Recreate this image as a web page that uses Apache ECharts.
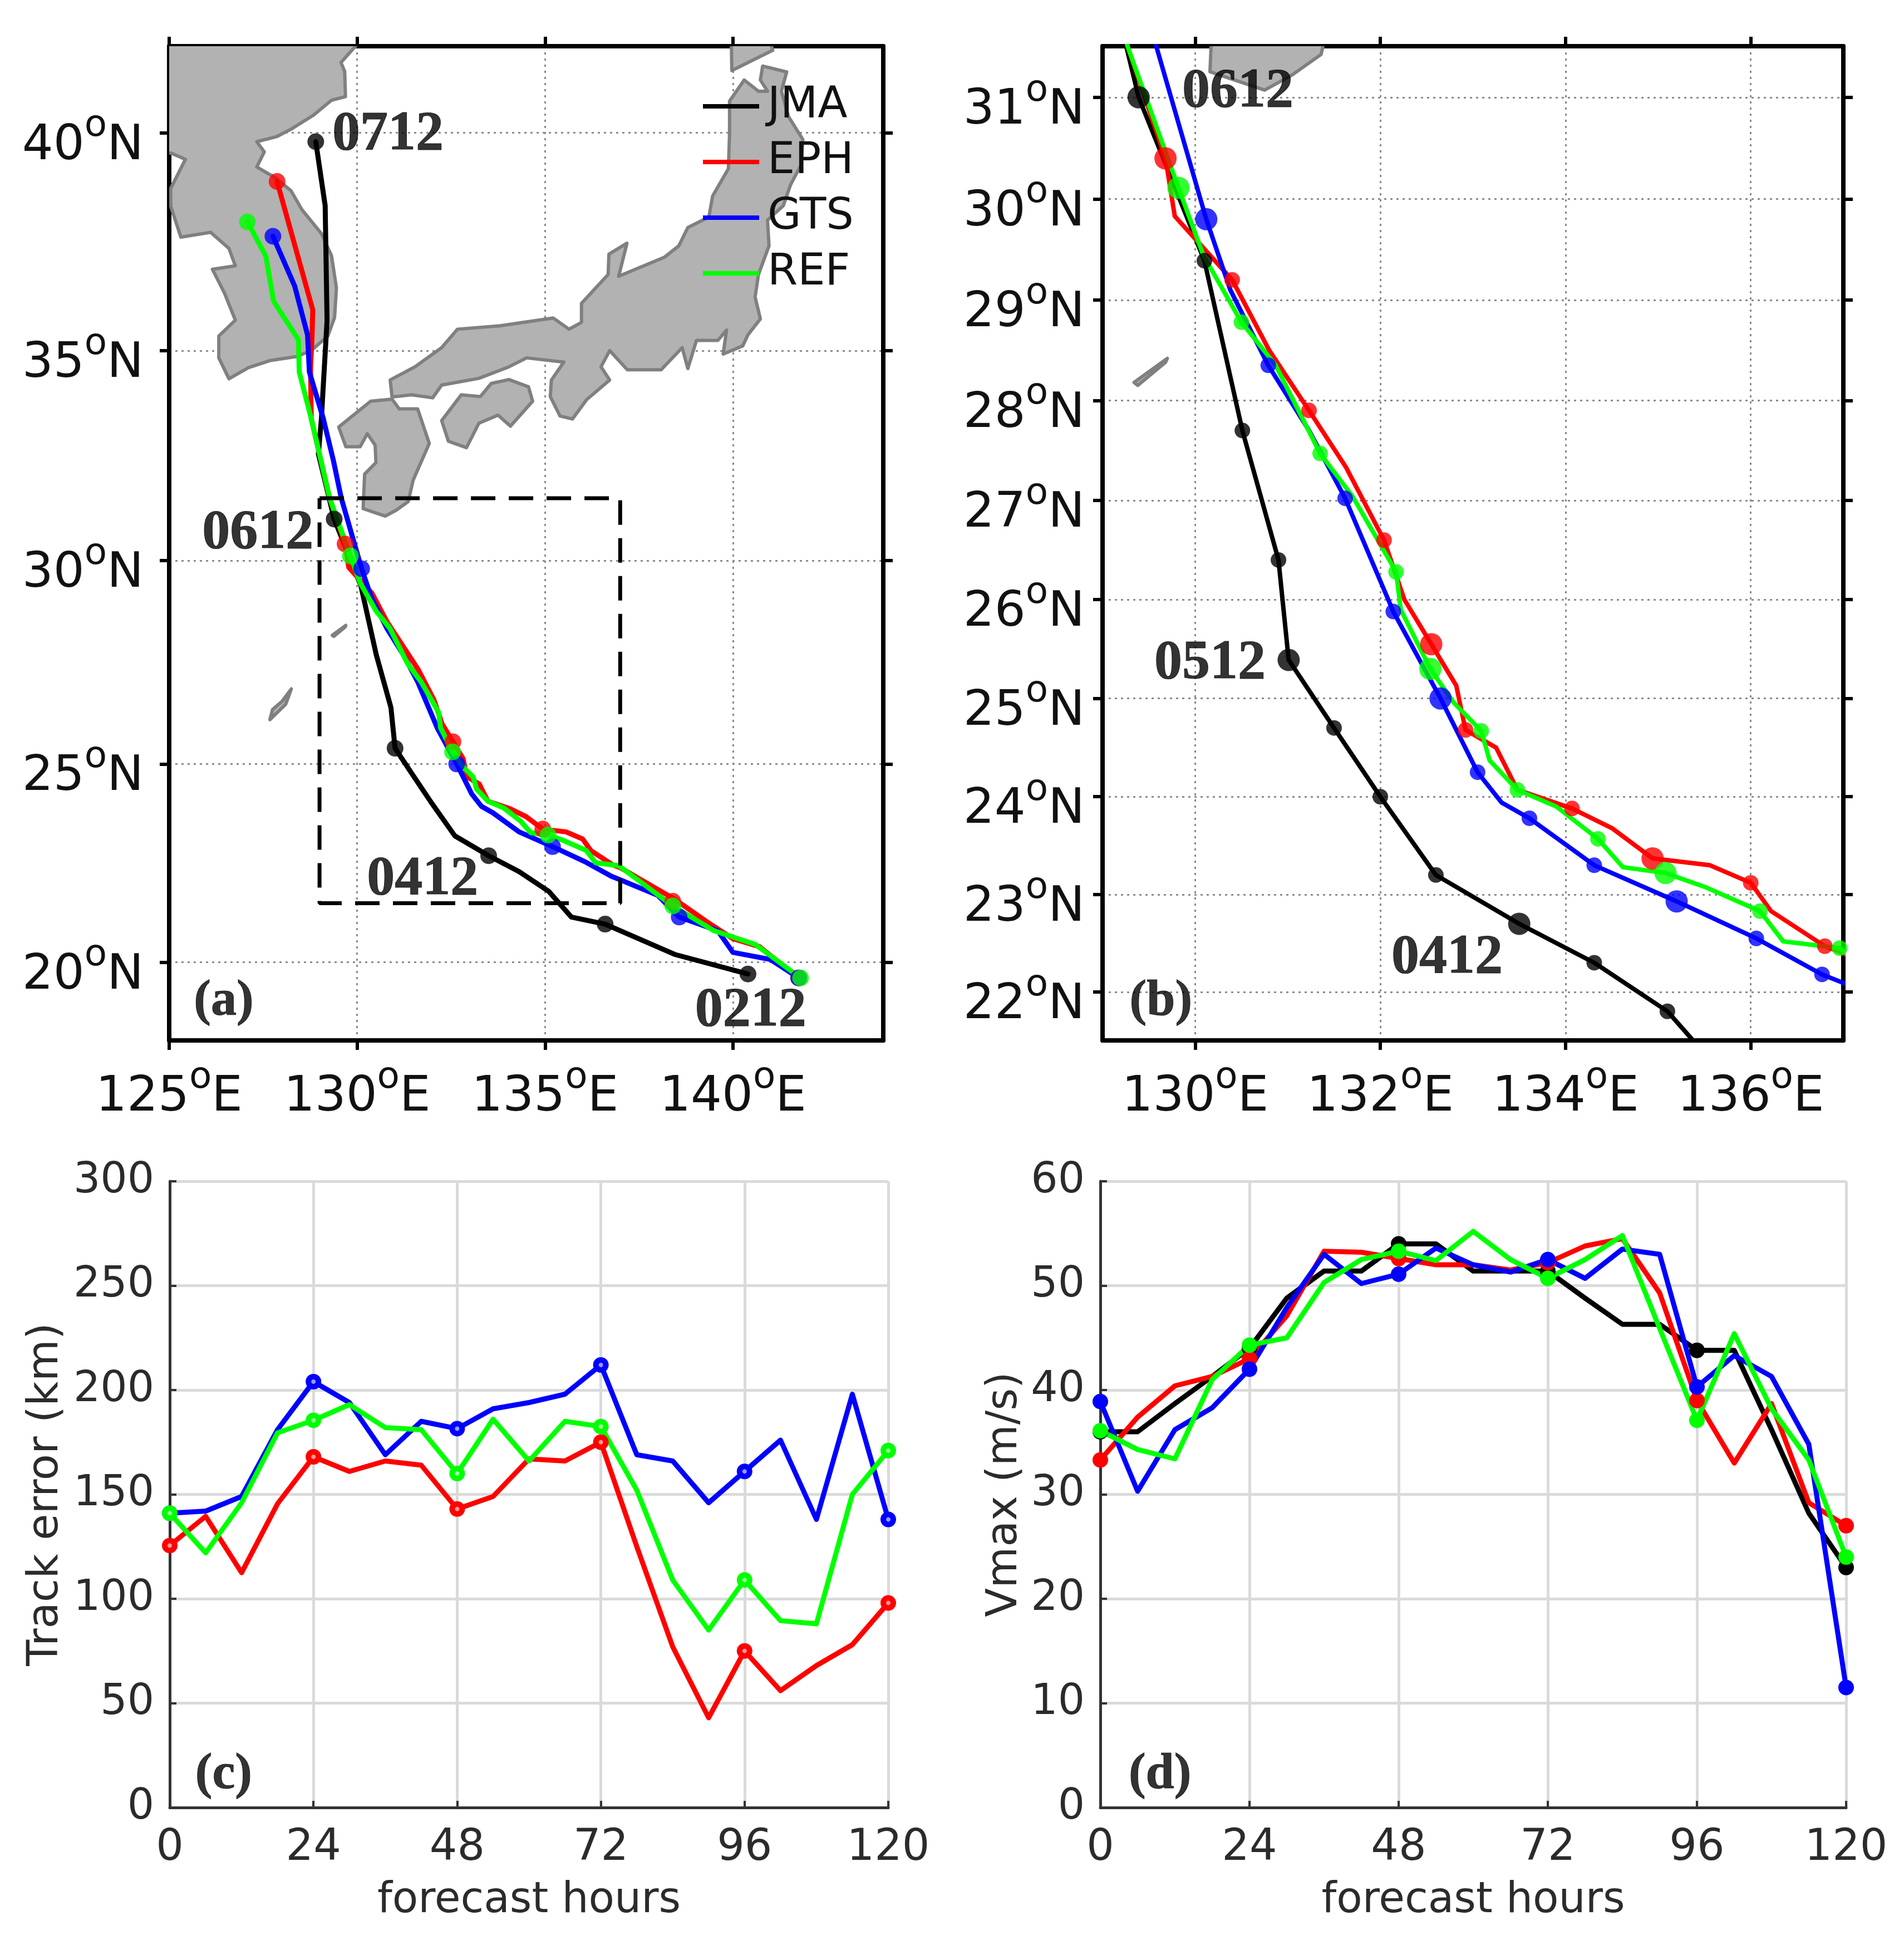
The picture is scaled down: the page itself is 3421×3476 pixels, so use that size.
<!DOCTYPE html>
<html><head><meta charset="utf-8">
<style>html,body{margin:0;padding:0;background:#fff}#c{width:3421px;height:3476px}</style>
<script src="https://cdn.jsdelivr.net/npm/echarts@6/dist/echarts.min.js"></script>
</head><body><div id="c"></div>
<script>
// ---------- track data: [lon, lat] ----------
const jmaTrack=[[140.4,19.7],[138.45,20.2],[136.6,20.97],[135.7,21.15],[135.1,21.8],[134.31,22.3],[133.5,22.7],[132.6,23.2],[132.0,24.0],[131.5,24.7],[131.01,25.39],[130.9,26.4],[130.51,27.7],[130.1,29.39],[129.39,31.0],[128.97,32.56],[129.05,33.4],[129.2,35.7],[129.15,38.35],[128.9,39.8]];
const ephTrack=[[141.75,19.6],[140.7,20.4],[140.0,20.6],[139.4,20.97],[138.45,21.6],[137.0,22.4],[136.8,22.47],[136.22,22.83],[136.0,23.12],[135.56,23.3],[134.94,23.37],[134.5,23.68],[134.07,23.88],[133.48,24.07],[133.25,24.5],[132.92,24.68],[132.82,25.13],[132.55,25.55],[132.26,26.0],[132.04,26.6],[131.63,27.33],[131.23,27.9],[130.8,28.5],[130.4,29.2],[129.78,29.83],[129.68,30.4],[129.27,31.5],[128.78,33.4],[128.76,34.6],[128.8,35.3],[128.82,35.95],[127.87,38.9]];
const gtsTrack=[[141.75,19.6],[141.0,20.07],[140.0,20.25],[139.6,20.8],[138.57,21.15],[138.0,21.7],[136.98,22.1],[136.77,22.18],[136.06,22.55],[135.2,22.93],[134.31,23.3],[133.61,23.78],[133.31,23.94],[133.05,24.25],[132.65,25.0],[132.14,25.88],[131.62,27.02],[131.23,27.7],[130.79,28.35],[130.38,29.1],[130.12,29.8],[129.58,31.5],[129.37,32.4],[129.1,33.4],[128.73,34.5],[128.68,35.37],[128.34,36.5],[127.76,37.65]];
const refTrack=[[141.8,19.6],[140.6,20.45],[139.5,20.8],[138.4,21.43],[136.96,22.45],[136.35,22.52],[136.1,22.83],[135.5,23.08],[135.08,23.22],[134.62,23.28],[134.35,23.57],[133.9,23.9],[133.48,24.07],[133.18,24.37],[133.09,24.67],[132.79,24.96],[132.54,25.3],[132.22,25.9],[132.17,26.28],[131.7,27.04],[131.35,27.47],[130.87,28.35],[130.5,28.78],[130.09,29.44],[129.82,30.11],[129.27,31.5],[128.78,33.4],[128.46,34.5],[128.44,35.25],[127.78,36.15],[127.57,37.2],[127.08,37.98]];
// daily (24 h) positions
const jmaDaily=[[140.4,19.7],[136.6,20.97],[133.5,22.7],[131.01,25.39],[129.39,31.0],[128.9,39.8]];
const ephDaily=[[141.75,19.6],[138.4,21.55],[134.94,23.37],[132.55,25.55],[129.68,30.4],[127.87,38.9]];
const gtsDaily=[[141.75,19.6],[138.57,21.15],[135.2,22.93],[132.65,25.0],[130.12,29.8],[127.76,37.65]];
const refDaily=[[141.8,19.6],[138.4,21.43],[135.08,23.22],[132.54,25.3],[129.82,30.11],[127.08,37.98]];
// positions plotted in the zoom panel
const jmaB=[[130.1,29.39],[130.51,27.7],[130.9,26.4],[131.5,24.7],[132.0,24.0],[132.6,23.2],[134.31,22.3],[135.1,21.8]];
const ephB=[[130.4,29.2],[131.23,27.9],[132.04,26.6],[132.92,24.68],[134.07,23.88],[136.0,23.12],[136.8,22.47]];
const gtsB=[[130.79,28.35],[131.62,27.02],[132.14,25.88],[133.05,24.25],[133.61,23.78],[134.31,23.3],[136.06,22.55],[136.77,22.18]];
const refB=[[130.5,28.78],[131.35,27.47],[132.17,26.28],[133.09,24.67],[133.48,24.07],[134.35,23.57],[136.1,22.83],[136.96,22.45]];
const jmaBLarge=[[129.39,31.0],[131.01,25.39],[133.5,22.7]];
const ephBLarge=[[129.68,30.4],[132.55,25.55],[134.94,23.37]];
const gtsBLarge=[[130.12,29.8],[132.65,25.0],[135.2,22.93]];
const refBLarge=[[129.82,30.11],[132.54,25.3],[135.08,23.22]];
// ---------- forecast series ----------
const hours=[0,6,12,18,24,30,36,42,48,54,60,66,72,78,84,90,96,102,108,114,120];
const trackEph=[125.5,139.5,112.5,145.5,168,161,166,164,143,149,167,166,175,125,77,43,75,56,68,78,98];
const trackGts=[141,142,149,181,204,194,169,185,181.5,191,194,198,212,169,166,146,161,176,138,198,138];
const trackRef=[141,122,146,179.5,185.5,193,182,181,160,186,166,185,182.5,152,109,85,109,89.5,88,150,171];
const vmaxJma=[36,36,38.7,41.3,44,48.8,51.4,51.4,54,54,51.4,51.4,51.4,48.8,46.3,46.3,43.8,43.8,36.2,28.2,23];
const vmaxEph=[33.3,37.4,40.4,41.3,43,47.1,53.3,53.2,52.6,52,52,51.5,52.2,53.8,54.5,49.3,39,33,38.7,29.2,27];
const vmaxGts=[38.9,30.3,36.2,38.3,42,47.9,53,50.2,51.1,53.6,52,51.3,52.5,50.7,53.5,53,40.3,43.3,41.3,34.8,11.5];
const vmaxRef=[36.1,34.3,33.4,41,44.3,45,50.3,52.5,53.3,52.4,55.2,52.5,50.7,52.5,54.8,45.9,37.1,45.4,38.2,33.3,24];
// ---------- ticks ----------
const lonTicksA=[125,130,135,140], latTicksA=[20,25,30,35,40];
const lonTicksB=[130,132,134,136], latTicksB=[22,23,24,25,26,27,28,29,30,31];
const hourTicks=[0,24,48,72,96,120];
// ---------- land outlines: [lon, lat] ----------
const landMain=[[124.5,42.5],[130.3,42.5],[129.99,41.96],[129.57,41.57],[129.67,41.37],[129.69,40.81],[129.32,40.73],[128.83,40.39],[128.24,40.08],[127.85,39.91],[127.33,39.8],[127.53,39.57],[127.33,39.23],[127.85,38.97],[128.24,38.69],[128.53,38.26],[129.05,37.71],[129.32,37.2],[129.45,36.46],[129.4,35.77],[129.22,35.34],[128.78,35.0],[128.39,34.86],[127.7,34.77],[127.11,34.6],[126.59,34.34],[126.32,34.83],[126.32,35.34],[126.76,35.71],[126.47,36.34],[126.15,36.89],[126.76,36.97],[126.59,37.37],[126.1,37.74],[125.31,37.63],[125.04,38.34],[125.04,38.74],[125.43,39.4],[125.06,39.54],[124.5,39.6]];
const landHonshu=[[130.88,34.31],[131.54,34.62],[132.25,35.07],[132.67,35.5],[133.8,35.58],[135.22,35.76],[135.64,35.5],[135.97,35.66],[135.97,36.1],[136.68,36.77],[136.7,37.24],[137.18,37.49],[136.96,36.73],[138.18,37.17],[138.56,37.43],[138.8,37.85],[139.36,38.09],[139.46,38.57],[139.88,39.19],[139.91,40.0],[139.91,40.71],[140.3,41.18],[140.68,40.93],[140.92,40.93],[140.73,41.18],[140.79,41.49],[141.43,41.36],[141.29,40.93],[141.48,40.36],[141.86,39.85],[141.81,39.27],[141.53,38.82],[141.34,38.35],[140.92,38.02],[140.96,37.43],[140.68,36.77],[140.59,36.25],[140.73,35.74],[140.4,35.37],[140.26,35.11],[139.74,34.92],[139.83,35.48],[139.6,35.24],[139.03,35.24],[138.8,34.58],[138.65,35.07],[138.09,34.55],[137.19,34.55],[136.72,35.0],[136.49,34.62],[136.72,34.31],[136.11,33.85],[135.73,33.39],[135.4,33.46],[135.14,33.92],[135.17,34.31],[135.5,34.73],[134.51,34.83],[134.04,34.62],[133.24,34.35],[132.25,34.19],[132.01,33.89],[131.45,33.96],[130.93,33.91]];
const landShikoku=[[132.25,33.35],[132.77,33.96],[133.28,33.92],[133.57,34.23],[134.04,34.32],[134.56,34.15],[134.67,33.81],[134.08,33.22],[133.75,33.48],[133.24,33.29],[132.91,32.71],[132.43,32.86]];
const landKyushu=[[129.51,33.2],[130.36,33.81],[130.93,33.86],[131.12,33.63],[131.61,33.63],[131.92,32.81],[131.49,31.93],[131.36,31.42],[131.05,31.22],[130.75,31.07],[130.16,31.25],[130.2,32.08],[130.5,32.35],[130.48,32.77],[130.27,33.04],[130.08,32.73],[129.7,32.73]];
const landHokkaido=[[139.95,42.5],[140.8,42.5],[141.06,41.84],[139.97,41.39]];
const landOkinawa=[[127.68,26.1],[127.75,26.35],[128.0,26.55],[128.25,26.86],[128.1,26.48],[127.88,26.28]];
const landAmami=[[129.34,28.18],[129.7,28.42],[129.68,28.38],[129.38,28.15]];
const lands=[landMain,landHonshu,landShikoku,landKyushu,landHokkaido,landOkinawa,landAmami];
// dashed box of panel (a)
const zoomBox=[[129,31.5],[137,31.5],[137,21.5],[129,21.5],[129,31.5]];
// ---------- annotations ----------
const notesA=[[130.82,39.95,'0712'],[127.36,30.65,'0612'],[131.74,22.1,'0412'],[140.47,18.75,'0212']];
const notesB=[[130.46,31.05,'0612'],[130.16,25.35,'0512'],[132.72,22.35,'0412']];
const letterA=[[126.45,19.0,'(a)']], letterB=[[129.63,21.9,'(b)']], letterC=[[9,15.7,'(c)']], letterD=[[9.6,3.15,'(d)']];

const COL={JMA:'#000000',EPH:'#ff0000',GTS:'#0000ff',REF:'#00ff00'};
const TINT={EPH:'#ff9a9a',GTS:'#9a9aff',REF:'#a0ffa0'};
const miller=lat=>1.25*Math.log(Math.tan(Math.PI/4+0.4*lat*Math.PI/180));
const proj=pts=>pts.map(p=>[p[0],miller(p[1])].concat(p.slice(2)));
const unproj=(v,list)=>list.find(l=>Math.abs(miller(l)-v)<1e-6);
const deg=(txt,h)=>`{d|${txt}}{o|o}{d|${h}}`;
const richFor=s=>({d:{fontSize:s,fontFamily:'DejaVu Sans',color:'#111',lineHeight:s*1.28,verticalAlign:'bottom'},o:{fontSize:s*.75,fontFamily:'DejaVu Sans',color:'#111',lineHeight:s*1.28,verticalAlign:'top'}});

const grid=[
 {left:304,top:83,width:1283,height:1786},
 {left:1981,top:83,width:1331,height:1786},
 {left:305,top:2122,width:1291,height:1125},
 {left:1977,top:2122,width:1340,height:1125}
];
const boxLine={show:true,onZero:false,lineStyle:{color:'#000',width:8}};
const boxTick=(vals)=>({show:true,length:17,customValues:vals,lineStyle:{color:'#000',width:6}});
const dotted={show:true,lineStyle:{color:'#8c8c8c',width:3,type:[4,7]}};
const geoX=(gi,min,max,ticks,fs)=>[
 {type:'value',gridIndex:gi,position:'bottom',min,max,axisLine:boxLine,
  axisTick:boxTick(ticks),splitLine:dotted,
  axisLabel:{customValues:ticks,margin:35,formatter:v=>deg(v,'E'),rich:richFor(fs)}},
 {type:'value',gridIndex:gi,position:'top',min,max,axisLine:boxLine,
  axisTick:boxTick(ticks),splitLine:{show:false},axisLabel:{show:false}}
];
const geoY=(gi,minLat,maxLat,ticks,fs,margin)=>{const vals=ticks.map(miller),min=miller(minLat),max=miller(maxLat);return [
 {type:'value',gridIndex:gi,position:'left',min,max,axisLine:boxLine,
  axisTick:boxTick(vals),splitLine:dotted,
  axisLabel:{customValues:vals,margin,padding:[24,0,0,0],formatter:v=>deg(unproj(v,ticks),'N'),rich:richFor(fs)}},
 {type:'value',gridIndex:gi,position:'right',min,max,axisLine:boxLine,
  axisTick:boxTick(vals),splitLine:{show:false},axisLabel:{show:false}}
];};
const plotLine={show:true,onZero:false,lineStyle:{color:'#333',width:5}};
const plotTick={show:true,inside:true,length:12,lineStyle:{color:'#333',width:4}};
const plotSplit={show:true,lineStyle:{color:'#dadada',width:5}};
const plotLabel={fontSize:78,fontFamily:'DejaVu Sans',color:'#2b2b2b',margin:35};
const plotName={fontSize:76,fontFamily:'DejaVu Sans',color:'#2b2b2b'};
const xAxis=[...geoX(0,125,144,lonTicksA,88),...geoX(1,129,137,lonTicksB,88),
 {type:'value',gridIndex:2,min:0,max:120,axisLine:plotLine,axisTick:{...plotTick,customValues:hourTicks},splitLine:plotSplit,axisLabel:{...plotLabel,customValues:hourTicks},name:'forecast hours',nameLocation:'middle',nameGap:130,nameTextStyle:plotName},
 {type:'value',gridIndex:3,min:0,max:120,axisLine:plotLine,axisTick:{...plotTick,customValues:hourTicks},splitLine:plotSplit,axisLabel:{...plotLabel,customValues:hourTicks},name:'forecast hours',nameLocation:'middle',nameGap:130,nameTextStyle:plotName}];
const yAxis=[...geoY(0,18,41.93,latTicksA,88,46),...geoY(1,21.5,31.5,latTicksB,88,32),
 {type:'value',gridIndex:2,min:0,max:300,interval:50,axisLine:plotLine,axisTick:plotTick,splitLine:plotSplit,axisLabel:{...plotLabel,fontSize:76,margin:28,padding:[8,0,0,0]},name:'Track error (km)',nameLocation:'middle',nameGap:184,nameTextStyle:{...plotName,fontSize:77}},
 {type:'value',gridIndex:3,min:0,max:60,interval:10,axisLine:plotLine,axisTick:plotTick,splitLine:plotSplit,axisLabel:{...plotLabel,fontSize:76,margin:28,padding:[8,0,0,0]},name:'Vmax (m/s)',nameLocation:'middle',nameGap:133,nameTextStyle:plotName}];

const series=[];
const ax={a:[0,0],b:[2,2],c:[4,4],d:[5,5]};
function land(p){
 lands.forEach((poly,i)=>series.push({type:'custom',name:'land'+p+i,xAxisIndex:ax[p][0],yAxisIndex:ax[p][1],clip:true,silent:true,z:1,
  data:proj(poly),encode:{x:0,y:1},
  renderItem:(params,api)=>{
   if(params.dataIndex!==0) return null;
   return {type:'polygon',shape:{points:proj(poly).map(q=>api.coord(q))},style:{fill:'#b2b2b2',stroke:'#808080',lineWidth:6,lineJoin:'round'}};
  }}));
}
const line=(p,name,pts,w)=>series.push({type:'line',name,xAxisIndex:ax[p][0],yAxisIndex:ax[p][1],data:proj(pts),symbol:'none',z:3,lineStyle:{color:COL[name],width:w,cap:'round',join:'round'},itemStyle:{color:COL[name]},silent:true,animation:false});
const dots=(p,name,pts,size)=>series.push({type:'scatter',name,xAxisIndex:ax[p][0],yAxisIndex:ax[p][1],data:proj(pts),symbolSize:size,clip:false,z:3,itemStyle:{color:COL[name]},silent:true});
const notes=(p,pts,fs,yProj)=>series.push({type:'scatter',name:'note',xAxisIndex:ax[p][0],yAxisIndex:ax[p][1],data:yProj?proj(pts):pts,symbolSize:1,clip:false,z:6,itemStyle:{color:'transparent'},silent:true,
 label:{show:true,position:'inside',formatter:q=>q.data[2],fontFamily:'Liberation Serif',fontWeight:'bold',fontSize:fs,color:'#000',textBorderColor:'#000',textBorderWidth:1}});

land('a');land('b');
series.push({type:'line',name:'box',xAxisIndex:0,yAxisIndex:0,data:proj(zoomBox),symbol:'none',z:5,lineStyle:{color:'#000',width:7,type:[44,24]},silent:true});
[['JMA',jmaTrack,jmaDaily,jmaB,jmaBLarge],['EPH',ephTrack,ephDaily,ephB,ephBLarge],['GTS',gtsTrack,gtsDaily,gtsB,gtsBLarge],['REF',refTrack,refDaily,refB,refBLarge]].forEach(([n,t,d,s,l])=>{
 line('a',n,t,9);dots('a',n,d,30);
 line('b',n,t,8);dots('b',n,s,28);dots('b',n,l,40);
});
notes('a',notesA,100,true);notes('a',letterA,92,true);
notes('b',notesB,100,true);notes('b',letterB,92,true);

const fc=(p,name,vals,hollow)=>series.push({type:'line',name,xAxisIndex:ax[p][0],yAxisIndex:ax[p][1],
 data:hours.map((h,i)=>[h,vals[i]]),showSymbol:true,showAllSymbol:true,clip:false,z:3,
 symbol:'circle',symbolSize:v=>v[0]%24===0?(hollow?18:28):0,
 lineStyle:{color:COL[name],width:9,join:'round'},itemStyle:{color:hollow?TINT[name]:COL[name],borderColor:COL[name],borderWidth:hollow?10:0},silent:true});
fc('c','EPH',trackEph,true);fc('c','GTS',trackGts,true);fc('c','REF',trackRef,true);
fc('d','JMA',vmaxJma,false);fc('d','EPH',vmaxEph,false);fc('d','GTS',vmaxGts,false);fc('d','REF',vmaxRef,false);
notes('c',letterC,92,false);notes('d',letterD,92,false);

const chart=echarts.init(document.getElementById('c'),null,{renderer:'canvas',width:3421,height:3476});
chart.setOption({animation:false,backgroundColor:'#fff',
 grid:grid.map(g=>({...g,containLabel:false,show:false})),xAxis,yAxis,series,
 legend:{show:true,left:1263,top:141,orient:'vertical',padding:0,itemGap:0,itemWidth:101,itemHeight:8,icon:'rect',selectedMode:false,
  data:['JMA','EPH','GTS','REF'],textStyle:{fontSize:78,fontFamily:'DejaVu Sans',color:'#111',lineHeight:100,padding:[0,0,0,10]},z:8}
});
</script></body></html>
